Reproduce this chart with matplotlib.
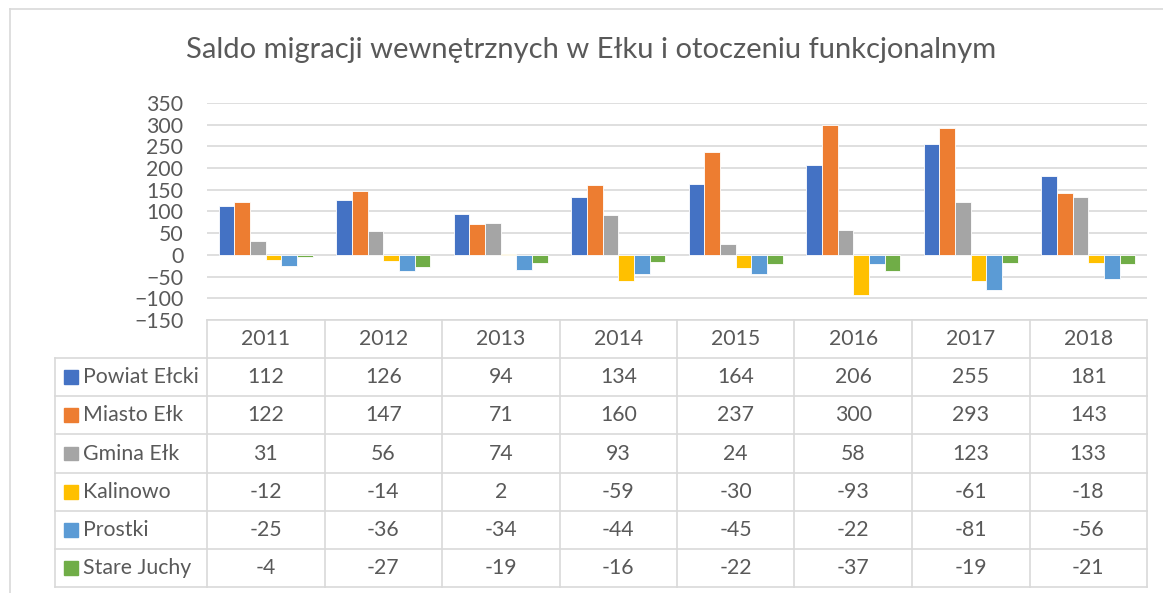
import numpy as np
import matplotlib.pyplot as plt
from matplotlib.patches import Rectangle

plt.rcParams['font.family'] = ['Lato', 'DejaVu Sans']

years = ['2011', '2012', '2013', '2014', '2015', '2016', '2017', '2018']
series_names = ['Powiat Ełcki', 'Miasto Ełk', 'Gmina Ełk', 'Kalinowo', 'Prostki', 'Stare Juchy']
powiat_elcki = [112, 126, 94, 134, 164, 206, 255, 181]
miasto_elk = [122, 147, 71, 160, 237, 300, 293, 143]
gmina_elk = [31, 56, 74, 93, 24, 58, 123, 133]
kalinowo = [-12, -14, 2, -59, -30, -93, -61, -18]
prostki = [-25, -36, -34, -44, -45, -22, -81, -56]
stare_juchy = [-4, -27, -19, -16, -22, -37, -19, -21]
colors = ['#4472C4', '#ED7D31', '#A5A5A5', '#FFC000', '#5B9BD5', '#70AD47']

W, H = 1163, 593
txt = '#595959'
grid = '#D9D9D9'
fs = 15.3

fig = plt.figure(figsize=(W / 100, H / 100), dpi=100)


def rect(x0, y0, x1, y1):
    # pixel box (top-left origin) -> figure fraction
    return [x0 / W, 1 - y1 / H, (x1 - x0) / W, (y1 - y0) / H]


# outer frame
fig.add_artist(plt.Line2D([10 / W, 10 / W], [0, 1 - 9 / H], color=grid, lw=1.2))
fig.add_artist(plt.Line2D([10 / W, 1], [1 - 9 / H, 1 - 9 / H], color=grid, lw=1.2))

fig.text(591 / W, 1 - 50 / H, 'Saldo migracji wewnętrznych w Ełku i otoczeniu funkcjonalnym',
         ha='center', va='center', fontsize=21, color=txt)

ax = fig.add_axes(rect(207, 103, 1147, 320))
data = [powiat_elcki, miasto_elk, gmina_elk, kalinowo, prostki, stare_juchy]
x = np.arange(len(years))
pitch = 0.8 / 6
for i, (vals, c) in enumerate(zip(data, colors)):
    ax.bar(x - 0.4 + pitch * (i + 0.5), vals, width=pitch, color=c,
           edgecolor='white', linewidth=0.6, zorder=3)
ax.set_xlim(-0.5, 7.5)
ax.set_ylim(-150, 350)
ax.set_yticks(np.arange(-150, 351, 50))
ax.set_xticks([])
ax.grid(axis='y', color=grid, lw=1.2, zorder=0)
for s in ax.spines.values():
    s.set_visible(False)
ax.tick_params(axis='y', length=0, pad=17, labelsize=fs, labelcolor=txt)

# data table
lab_w = 152 / 117.5
tax = fig.add_axes(rect(55, 320, 1147, 587))
tax.set_xlim(-0.5 - lab_w, 7.5)
tax.set_ylim(7, 0)
tax.axis('off')
lw = 1.2
# horizontal lines
tax.plot([-0.5, 7.5], [0, 0], color=grid, lw=lw, clip_on=False)
for r in range(1, 8):
    tax.plot([-0.5 - lab_w, 7.5], [r, r], color=grid, lw=lw, clip_on=False)
# vertical lines
tax.plot([-0.5 - lab_w] * 2, [1, 7], color=grid, lw=lw, clip_on=False)
for k in range(9):
    tax.plot([k - 0.5] * 2, [0, 7], color=grid, lw=lw, clip_on=False)

for j, yr in enumerate(years):
    tax.text(j, 0.5, yr, ha='center', va='center', fontsize=fs, color=txt)
for i, (name, vals, c) in enumerate(zip(series_names, data, colors)):
    r = i + 1.5
    tax.add_patch(Rectangle((-0.5 - lab_w + 9 / 117.5, r - 0.18), 14 / 117.5, 0.36,
                            color=c, clip_on=False))
    tax.text(-0.5 - lab_w + 28 / 117.5, r, name, ha='left', va='center',
             fontsize=fs, color=txt)
    for j, v in enumerate(vals):
        tax.text(j, r, str(v), ha='center', va='center', fontsize=fs, color=txt)

fig.savefig('out.png', dpi=100)
